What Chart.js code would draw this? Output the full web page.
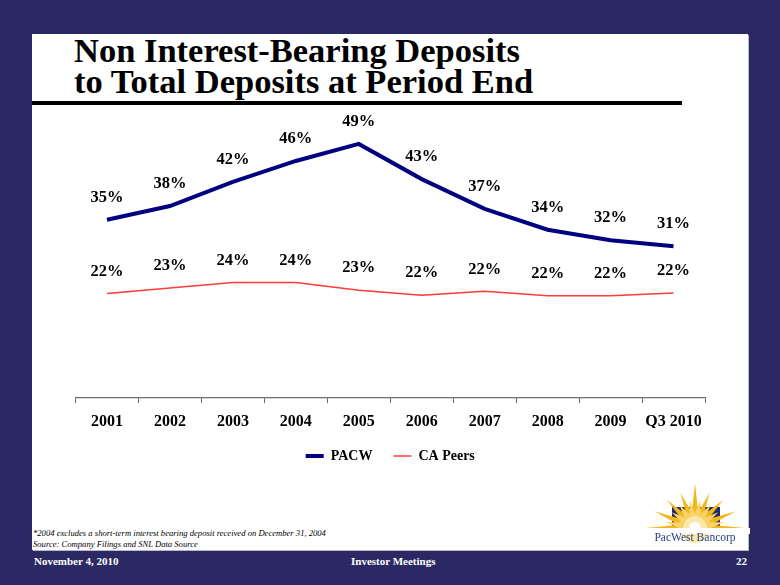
<!DOCTYPE html>
<html>
<head>
<meta charset="utf-8">
<script src="https://cdn.jsdelivr.net/npm/chart.js@4/dist/chart.umd.min.js"></script>
<style>
  html, body { margin: 0; padding: 0; }
  body { width: 780px; height: 585px; background: #2B2964; position: relative; overflow: hidden; font-family: "Liberation Serif", "Times New Roman", serif; }
  #panel { position: absolute; left: 32px; top: 34px; width: 716px; height: 516px; background: #ffffff; box-shadow: 1px 1px 0 #b8b8c8; }
  #title { position: absolute; left: 74px; top: 35px; font-weight: bold; font-size: 34.5px; line-height: 31px; color: #000; white-space: nowrap; }
  #rule { position: absolute; left: 32px; top: 101px; width: 650px; height: 4px; background: #000; }
  #chartBox { position: absolute; left: 60px; top: 100px; width: 660px; height: 400px; }
  .note { position: absolute; left: 33px; font-style: italic; font-size: 8.6px; color: #000; white-space: nowrap; }
  .foot { position: absolute; top: 555px; font-weight: bold; font-size: 11px; color: #fff; white-space: nowrap; }
  #logo { position: absolute; left: 630px; top: 470px; }
</style>
</head>
<body>
<div id="panel"></div>
<div id="title">Non Interest-Bearing Deposits<br>to Total Deposits at Period End</div>
<div id="rule"></div>
<div id="chartBox"><canvas id="c" width="660" height="400"></canvas></div>
<div class="note" style="top:528px">*2004 excludes a short-term interest bearing deposit received on December 31, 2004</div>
<div class="note" style="top:539px">Source: Company Filings and SNL Data Source</div>
<div class="foot" style="left:34px">November 4, 2010</div>
<div class="foot" style="left:351px">Investor Meetings</div>
<div class="foot" style="left:736px">22</div>
<svg id="logo" width="120" height="80" viewBox="630 470 120 80">
  <rect x="672" y="507" width="48" height="21" fill="#1F2A70"/>
  <circle cx="695" cy="528" r="15" fill="#FBE7A8"/>
  <g id="rays"></g>
  <rect x="640" y="528" width="110" height="6" fill="#ffffff"/>
  <circle cx="695" cy="528" r="6" fill="#ffffff"/>
  <text x="695" y="541" text-anchor="middle" font-family="Liberation Serif" font-size="11.5" fill="#26408C">PacWest Bancorp</text>
</svg>
<script>
// logo rays (decoration only)
(function () {
  const g = document.getElementById('rays');
  const cx = 695, cy = 528;
  const rays = [[0, 50, '#F4B719'], [22.5, 44, '#F4B719'], [45, 40, '#F4B719'], [67.5, 38, '#F4B719'], [90, 45, '#F4B719'],
                [112.5, 38, '#F4B719'], [135, 40, '#F4B719'], [157.5, 44, '#F4B719'], [180, 50, '#F4B719'],
                [11, 30, '#F8D36A'], [34, 28, '#F8D36A'], [56, 28, '#F8D36A'], [79, 28, '#F8D36A'],
                [101, 28, '#F8D36A'], [124, 28, '#F8D36A'], [146, 28, '#F8D36A'], [169, 30, '#F8D36A']];
  let html = '';
  rays.forEach(([a, L, col]) => {
    const r = a * Math.PI / 180;
    const dx = Math.cos(r), dy = -Math.sin(r);
    const px = -dy, py = dx;
    const b = 12, hw = 3.5;
    const p1 = [cx + dx * b + px * hw, cy + dy * b + py * hw];
    const p2 = [cx + dx * b - px * hw, cy + dy * b - py * hw];
    const p3 = [cx + dx * L, cy + dy * L];
    html += `<polygon points="${p1.join(',')} ${p2.join(',')} ${p3.join(',')}" fill="${col}"/>`;
  });
  g.innerHTML = html;
})();

const categories = ['2001', '2002', '2003', '2004', '2005', '2006', '2007', '2008', '2009', 'Q3 2010'];
const pacwValues = [35.4, 37.9, 42.3, 46.1, 49.2, 42.8, 37.4, 33.6, 31.7, 30.6];
const caPeersValues = [22.0, 23.0, 24.0, 24.0, 22.6, 21.7, 22.4, 21.6, 21.6, 22.1];
const seriesNames = ['PACW', 'CA Peers'];

const valueLabels = {
  id: 'valueLabels',
  afterDatasetsDraw(chart) {
    const ctx = chart.ctx;
    ctx.save();
    ctx.font = 'bold 16.5px "Liberation Serif", serif';
    ctx.fillStyle = '#000';
    ctx.textAlign = 'center';
    ctx.textBaseline = 'middle';
    const offsets = [22, 22];
    chart.data.datasets.forEach((ds, i) => {
      const meta = chart.getDatasetMeta(i);
      meta.data.forEach((pt, j) => {
        ctx.fillText(Math.round(ds.data[j]) + '%', pt.x, pt.y - offsets[i]);
      });
    });
    ctx.restore();
  }
};

new Chart(document.getElementById('c'), {
  type: 'line',
  data: {
    labels: categories,
    datasets: [
      { label: seriesNames[0], data: pacwValues, borderColor: '#000080', backgroundColor: '#000080', borderWidth: 4, pointRadius: 0, pointStyle: 'line', tension: 0 },
      { label: seriesNames[1], data: caPeersValues, borderColor: '#FF3B3B', backgroundColor: '#FF3B3B', borderWidth: 1.5, pointRadius: 0, pointStyle: 'line', tension: 0 }
    ]
  },
  options: {
    responsive: false,
    animation: false,
    layout: { padding: { left: 15.5, right: 15, top: 28.5, bottom: 27 } },
    plugins: {
      legend: {
        position: 'bottom',
        labels: {
          usePointStyle: true,
          pointStyleWidth: 18,
          padding: 21,
          color: '#000',
          font: { family: '"Liberation Serif", serif', size: 14, weight: 'bold' }
        }
      },
      tooltip: { enabled: false }
    },
    scales: {
      x: {
        offset: true,
        grid: { offset: true, drawOnChartArea: false, drawTicks: true, tickLength: 5, color: '#6b6b6b' },
        border: { display: true, color: '#6b6b6b', width: 1.2 },
        ticks: { color: '#000', padding: 9, font: { family: '"Liberation Serif", serif', size: 16, weight: 'bold' }, maxRotation: 0, autoSkip: false },
        afterFit(scale) { scale.height = 30; }
      },
      y: { display: false, min: 3, max: 52 }
    }
  },
  plugins: [valueLabels]
});
</script>
</body>
</html>
